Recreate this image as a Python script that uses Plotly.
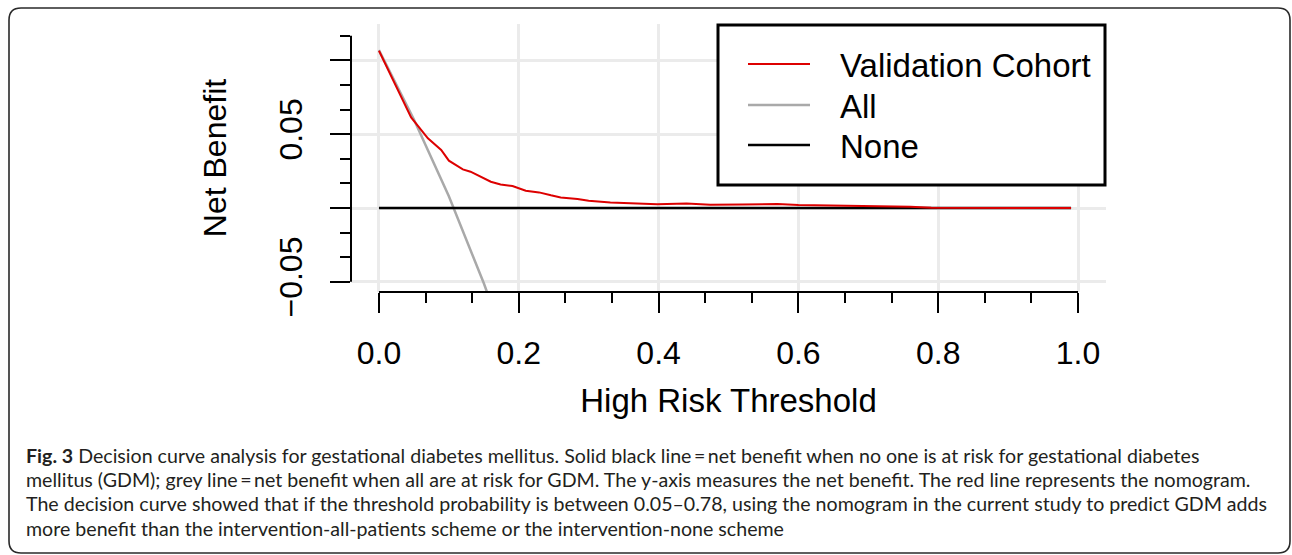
import plotly.graph_objects as go

# ---------------- data ----------------
threshold_model = [0.0, 0.046, 0.070, 0.089, 0.100, 0.120, 0.131, 0.143, 0.160, 0.174,
                   0.191, 0.210, 0.229, 0.246, 0.260, 0.284, 0.300, 0.331, 0.360, 0.398,
                   0.440, 0.474, 0.520, 0.550, 0.570, 0.600, 0.650, 0.690, 0.730, 0.760,
                   0.790, 0.850, 0.900, 0.950, 0.990]
nb_model = [0.1066, 0.0614, 0.0472, 0.0393, 0.0321, 0.0262, 0.0246, 0.0219, 0.0178, 0.0160,
            0.0149, 0.0117, 0.0106, 0.0086, 0.0072, 0.0061, 0.0049, 0.0038, 0.0031, 0.0025,
            0.0030, 0.0023, 0.0024, 0.0026, 0.0027, 0.0020, 0.0018, 0.0016, 0.0013, 0.0009,
            0.0002, 0.0000, 0.0000, 0.0000, 0.0000]

threshold_all = [0.0, 0.05, 0.10, 0.15, 0.20]
nb_all = [0.107, 0.060, 0.008, -0.051, -0.116]

threshold_none = [0.0, 0.99]
nb_none = [0.0, 0.0]

series_names = ["Validation Cohort", "All", "None"]
series_colors = ["#dd0000", "#a9a9a9", "#000000"]
series_widths = [2, 2.5, 2.5]

x_tickvals = [0.0, 0.2, 0.4, 0.6, 0.8, 1.0]
x_ticktext = ["0.0", "0.2", "0.4", "0.6", "0.8", "1.0"]
y_tickvals = [-0.05, 0.0, 0.05, 0.10]
y_ticktext = ["\u22120.05", "", "0.05", ""]

x_title = "High Risk Threshold"
y_title = "Net Benefit"

caption_lines = [
    "<b>Fig. 3</b> Decision curve analysis for gestational diabetes mellitus. Solid black line\u2009=\u2009net benefit when no one is at risk for gestational diabetes",
    "mellitus (GDM); grey line\u2009=\u2009net benefit when all are at risk for GDM. The y-axis measures the net benefit. The red line represents the nomogram.",
    "The decision curve showed that if the threshold probability is between 0.05\u20130.78, using the nomogram in the current study to predict GDM adds",
    "more benefit than the intervention-all-patients scheme or the intervention-none scheme",
]

# ---------------- layout geometry (pixels) ----------------
W, H = 1292, 555
L, R, T, B = 351, 1106, 24, 292   # plot area edges


def px(xp):
    return (xp - L) / (R - L)


def py(yp):
    return (B - yp) / (B - T)


AXIS_FONT = "Liberation Sans, Arial, Helvetica, sans-serif"

fig = go.Figure()
fig.add_trace(go.Scatter(x=threshold_all, y=nb_all, mode="lines", name=series_names[1],
                         line=dict(color=series_colors[1], width=series_widths[1]), showlegend=False))
fig.add_trace(go.Scatter(x=threshold_none, y=nb_none, mode="lines", name=series_names[2],
                         line=dict(color=series_colors[2], width=series_widths[2]), showlegend=False))
fig.add_trace(go.Scatter(x=threshold_model, y=nb_model, mode="lines", name=series_names[0],
                         line=dict(color=series_colors[0], width=series_widths[0]), showlegend=False))

shapes = []
# R-style axis lines spanning first to last tick
shapes.append(dict(type="line", xref="x", yref="paper", x0=0.0, x1=1.0, y0=0, y1=0,
                   line=dict(color="black", width=2)))
shapes.append(dict(type="line", xref="paper", yref="y", x0=0, x1=0, y0=-0.05, y1=0.05 * 7 / 3,
                   line=dict(color="black", width=2)))

# legend box
shapes.append(dict(type="rect", xref="paper", yref="paper", x0=px(718), x1=px(1105),
                   y0=py(185), y1=py(25), line=dict(color="black", width=3),
                   fillcolor="white", layer="above"))
legend_y = [64, 105, 145]
annotations = []
for name, col, wd, ly in zip(series_names, series_colors, series_widths, legend_y):
    shapes.append(dict(type="line", xref="paper", yref="paper", x0=px(748), x1=px(810),
                       y0=py(ly), y1=py(ly), line=dict(color=col, width=wd), layer="above"))
    annotations.append(dict(xref="paper", yref="paper", x=px(838), y=py(ly + 1), text=name,
                            showarrow=False, xanchor="left", yanchor="middle",
                            font=dict(family=AXIS_FONT, size=33, color="black")))

# outer rounded frame
fx0, fx1, fy0, fy1, rr = 9, 1290, 8, 553, 12


def P(a, b):
    return f"{px(a):.6f},{py(b):.6f}"


frame_path = (f"M{P(fx0 + rr, fy0)} L{P(fx1 - rr, fy0)} Q{P(fx1, fy0)} {P(fx1, fy0 + rr)} "
              f"L{P(fx1, fy1 - rr)} Q{P(fx1, fy1)} {P(fx1 - rr, fy1)} "
              f"L{P(fx0 + rr, fy1)} Q{P(fx0, fy1)} {P(fx0, fy1 - rr)} "
              f"L{P(fx0, fy0 + rr)} Q{P(fx0, fy0)} {P(fx0 + rr, fy0)} Z")
shapes.append(dict(type="path", xref="paper", yref="paper", path=frame_path,
                   line=dict(color="#2a2a2a", width=1.6), layer="below"))

# caption
cap_y = [455, 479.5, 504, 528.5]
for line, cy in zip(caption_lines, cap_y):
    annotations.append(dict(xref="paper", yref="paper", x=px(24), y=py(cy), text=line,
                            showarrow=False, xanchor="left", yanchor="middle",
                            font=dict(family="Lato, sans-serif", size=19.6, color="#231f20")))

fig.update_layout(
    width=W, height=H,
    margin=dict(l=L, r=W - R, t=T, b=H - B, pad=0),
    paper_bgcolor="white", plot_bgcolor="white",
    showlegend=False,
    shapes=shapes,
    annotations=annotations,
    font=dict(family=AXIS_FONT, size=32, color="black"),
)

fig.update_xaxes(
    range=[-0.04, 1.04], showline=False, zeroline=False,
    tickmode="array", tickvals=x_tickvals, ticktext=x_ticktext,
    ticks="outside", ticklen=20, tickwidth=2, tickcolor="black",
    showgrid=True, gridcolor="#ebebeb", gridwidth=3,
    tickfont=dict(family=AXIS_FONT, size=32, color="black"),
    ticklabelstandoff=13,
    minor=dict(tickmode="linear", tick0=0, dtick=0.2 / 3, ticks="outside", ticklen=10,
               tickwidth=2, tickcolor="black", showgrid=False),
    title=dict(text=x_title, standoff=18, font=dict(family=AXIS_FONT, size=33, color="black")),
)
fig.update_yaxes(
    range=[-0.0569, 0.1247], showline=False, zeroline=False,
    tickmode="array", tickvals=y_tickvals, ticktext=y_ticktext, tickangle=-90,
    ticks="outside", ticklen=20, tickwidth=2, tickcolor="black",
    showgrid=True, gridcolor="#ebebeb", gridwidth=3,
    tickfont=dict(family=AXIS_FONT, size=32, color="black"),
    ticklabelstandoff=15,
    minor=dict(tickmode="linear", tick0=0, dtick=0.05 / 3, ticks="outside", ticklen=10,
               tickwidth=2, tickcolor="black", showgrid=False),
    title=dict(text=y_title, standoff=37, font=dict(family=AXIS_FONT, size=32, color="black")),
)

fig.write_html("out.html")
